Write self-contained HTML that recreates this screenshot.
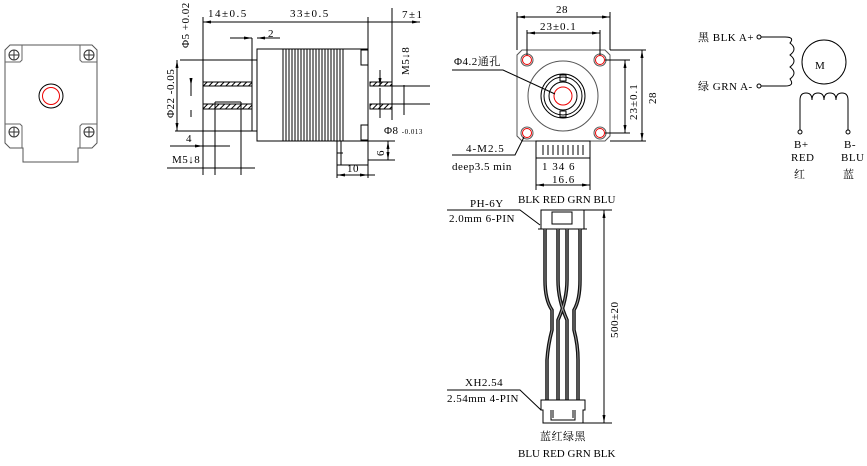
<!DOCTYPE html>
<html><head><meta charset="utf-8"><style>
html,body{margin:0;padding:0;background:#fff;}
svg{display:block;}
text{font-family:"Liberation Serif","Noto Serif CJK SC",serif;font-size:11px;fill:#000;letter-spacing:0.5px;}
</style></head><body>
<svg width="867" height="466" viewBox="0 0 867 466" xmlns="http://www.w3.org/2000/svg">
<defs>
<pattern id="h" width="4" height="4" patternUnits="userSpaceOnUse" patternTransform="rotate(45)"><line x1="0" y1="0" x2="0" y2="4" stroke="#000" stroke-width="2"/></pattern>
<marker id="a" markerWidth="8" markerHeight="6" refX="8" refY="3" orient="auto-start-reverse"><path d="M0,1.5L8,3L0,4.5" fill="#000"/></marker>
</defs>
<g fill="none" stroke="#000" stroke-width="1">
<path d="M10,45H92L97,50V143L92,148H78V162H23V148H10L5,143V50Z" stroke="#555"/>
<path d="M5,62H20L22,60V45M97,62H82L80,60V45M5,124H20L22,126V148M97,124H82L80,126V148" stroke="#666"/>
<g stroke="#333"><circle cx="14" cy="55" r="5"/><circle cx="89" cy="55" r="5"/><circle cx="14" cy="132" r="5"/><circle cx="89" cy="132" r="5"/>
<path d="M9,55h10M14,50v10M84,55h10M89,50v10M9,132h10M14,127v10M84,132h10M89,127v10"/></g>
<circle cx="51" cy="96" r="12"/><circle cx="51" cy="96" r="8.5" stroke="#e00"/>
<rect x="257" y="49" width="111" height="92"/>
<path d="M283,49V141M286,49V141M289,49V141M292,49V141M295,49V141M298,49V141M301,49V141M304,49V141M307,49V141M310,49V141M313,49V141M316,49V141M319,49V141M322,49V141M325,49V141M328,49V141M331,49V141M334,49V141M337,49V141M340,49V141M343,49V141"/>
<rect x="203" y="82" width="49" height="4" fill="url(#h)"/><rect x="203" y="104" width="49" height="5" fill="url(#h)"/>
<rect x="370" y="82" width="22" height="4" fill="url(#h)"/><rect x="370" y="104" width="22" height="5" fill="url(#h)"/>
<path d="M252,38V131M257,60H180M257,131H175M203,17V175M368,17V178M392,8V120M392,86H430M392,104H430M215,86H243M215,102H241"/>
<path d="M361,50h7v15h-7zM361,125h7v15h-7z"/>
<path d="M337,141h31v24h-31zM337,141v24M341,141v24M337,153h6"/>
<path d="M203,22H252M252,22H368M368,22H392M392,22H420" marker-start="url(#a)" marker-end="url(#a)"/>
<path d="M230,38H252" marker-end="url(#a)"/><path d="M257,38H280" marker-start="url(#a)"/>
<path d="M177,60V131" marker-start="url(#a)" marker-end="url(#a)"/>
<path d="M191,78V96M191,110V117" /><path d="M191,78V86" marker-end="url(#a)"/>
<path d="M170,146H230"/><path d="M183,146H203" marker-end="url(#a)"/>
<path d="M215,102V175M241,102V175M167,168H255"/>
<path d="M380,88V118"/><path d="M380,70V86" marker-end="url(#a)"/>
<path d="M404,85V115"/>
<path d="M368,141H395M368,160H395"/><path d="M388,141V160" marker-start="url(#a)" marker-end="url(#a)"/>
<path d="M337,165V178M368,175H375"/><path d="M337,175H368" marker-start="url(#a)" marker-end="url(#a)"/>
<path d="M522,50H605L610,55V136L605,141H522L517,136V55Z" stroke="#555"/>
<g stroke="#e00"><circle cx="527" cy="60" r="4.5"/><circle cx="600" cy="60" r="4.5"/><circle cx="527" cy="133" r="4.5"/><circle cx="600" cy="133" r="4.5"/><circle cx="563" cy="96" r="9"/></g>
<g stroke="#555"><circle cx="527" cy="60" r="6"/><circle cx="600" cy="60" r="6"/><circle cx="527" cy="133" r="6"/><circle cx="600" cy="133" r="6"/></g>
<circle cx="563" cy="96" r="35" stroke="#555"/><circle cx="563" cy="96" r="22"/><circle cx="563" cy="96" r="19"/><circle cx="563" cy="96" r="14"/>
<rect x="560" y="75" width="6" height="6"/><rect x="560" y="111" width="6" height="6"/>
<path d="M536,141h54v17h-54zM543,145v10M548,145v10M553,145v10M558,145v10M563,145v10M568,145v10M573,145v10M578,145v10M583,145v10"/>
<path d="M517,50V12M610,50V12M527,55V30M600,55V30"/>
<path d="M517,17H610" marker-start="url(#a)" marker-end="url(#a)"/>
<path d="M527,33H600" marker-start="url(#a)" marker-end="url(#a)"/>
<path d="M605,60H630M610,50H646M610,141H646M605,133H630"/>
<path d="M625,60V133" marker-start="url(#a)" marker-end="url(#a)"/>
<path d="M642,50V141" marker-start="url(#a)" marker-end="url(#a)"/>
<path d="M452,70H503L555,94" /><path d="M452,155H515L524,137"/>
<path d="M536,158V190M590,158V190"/><path d="M536,185H590" marker-start="url(#a)" marker-end="url(#a)"/>
<rect x="541" y="210" width="43" height="19"/><rect x="552" y="212" width="20" height="12"/>
<path d="M538,229h49"/>
<g stroke="#111" stroke-width="3.5"><path d="M545,229V280Q545,300 552,310V330Q548,345 547,360V400"/><path d="M558,229V280Q558,300 567,320V400"/><path d="M567,229V280Q567,300 558,320V400"/><path d="M580,229V280Q580,300 574,310V330Q578,345 578,360V400"/></g>
<g stroke="#999" stroke-width="1"><path d="M545,229V280Q545,300 552,310V330Q548,345 547,360V400"/><path d="M558,229V280Q558,300 567,320V400"/><path d="M567,229V280Q567,300 558,320V400"/><path d="M580,229V280Q580,300 574,310V330Q578,345 578,360V400"/></g>
<path d="M541,400H585V410H583V423H543V410H541Z"/><path d="M551,410V420H575V410M553,410V418M573,410V418" />
<path d="M584,210H612M583,423H612"/><path d="M604,210V423" marker-start="url(#a)" marker-end="url(#a)"/>
<path d="M447,210H520L540,225" /><path d="M447,390H520L541,410"/>
<circle cx="759" cy="37" r="2"/><circle cx="759" cy="86" r="2"/>
<path d="M761,37H785Q795,37 790,43Q798,49 790,55Q798,61 790,67Q798,73 790,79Q795,86 785,86H761"/>
<circle cx="824" cy="62" r="22"/>
<path d="M800,130V100Q800,93 806,93Q812,93 812,100Q812,93 818,93Q824,93 824,100Q824,93 830,93Q836,93 836,100Q836,93 842,93Q848,93 848,100V130"/>
<circle cx="800" cy="132" r="2"/><circle cx="848" cy="132" r="2"/>
</g>
<text x="208" y="17" font-size="12" style="letter-spacing:1.5px">14±0.5</text>
<text x="290" y="17" font-size="12" style="letter-spacing:1.5px">33±0.5</text>
<text x="402" y="18" font-size="12" style="letter-spacing:1.5px">7±1</text>
<text x="268" y="37" font-size="12">2</text>
<text transform="translate(174,118) rotate(-90)" font-size="11">Φ22 -0.05</text>
<text transform="translate(189,48) rotate(-90)" font-size="11">Φ5 +0.02</text>
<text x="186" y="142">4</text>
<text x="172" y="163">M5↓8</text>
<text x="347" y="172">10</text>
<text transform="translate(384,156) rotate(-90)">6</text>
<text x="384" y="134">Φ8 <tspan font-size="7">-0.013</tspan></text>
<text transform="translate(409,75) rotate(-90)">M5↓8</text>
<text x="556" y="13" font-size="12">28</text>
<text x="540" y="30" font-size="12" style="letter-spacing:1px">23±0.1</text>
<text transform="translate(637,120) rotate(-90)" font-size="12" style="letter-spacing:1px">23±0.1</text>
<text transform="translate(656,104) rotate(-90)" font-size="12">28</text>
<text x="454" y="65" font-size="12">Φ4.2通孔</text>
<text x="466" y="152" font-size="12" style="letter-spacing:1px">4-M2.5</text>
<text x="452" y="170" font-size="12">deep3.5 min</text>
<text x="542" y="170" font-size="12" style="letter-spacing:1px">1 34 6</text>
<text x="552" y="183" font-size="12" style="letter-spacing:1px">16.6</text>
<text x="518" y="203" style="letter-spacing:0">BLK RED GRN BLU</text>
<text x="470" y="207">PH-6Y</text>
<text x="449" y="222">2.0mm 6-PIN</text>
<text x="465" y="386">XH2.54</text>
<text x="447" y="402">2.54mm 4-PIN</text>
<text x="540" y="440" font-size="12">蓝红绿黑</text>
<text x="518" y="457" style="letter-spacing:0">BLU RED GRN BLK</text>
<text transform="translate(618,338) rotate(-90)" font-size="12">500±20</text>
<text x="698" y="41">黑 BLK A+</text>
<text x="698" y="90">绿 GRN A-</text>
<text x="815" y="69" font-family="Liberation Sans,sans-serif" font-size="18">M</text>
<text x="794" y="148">B+</text><text x="791" y="161">RED</text><text x="794" y="178">红</text>
<text x="844" y="148">B-</text><text x="841" y="161">BLU</text><text x="843" y="178">蓝</text>
</svg>
</body></html>
